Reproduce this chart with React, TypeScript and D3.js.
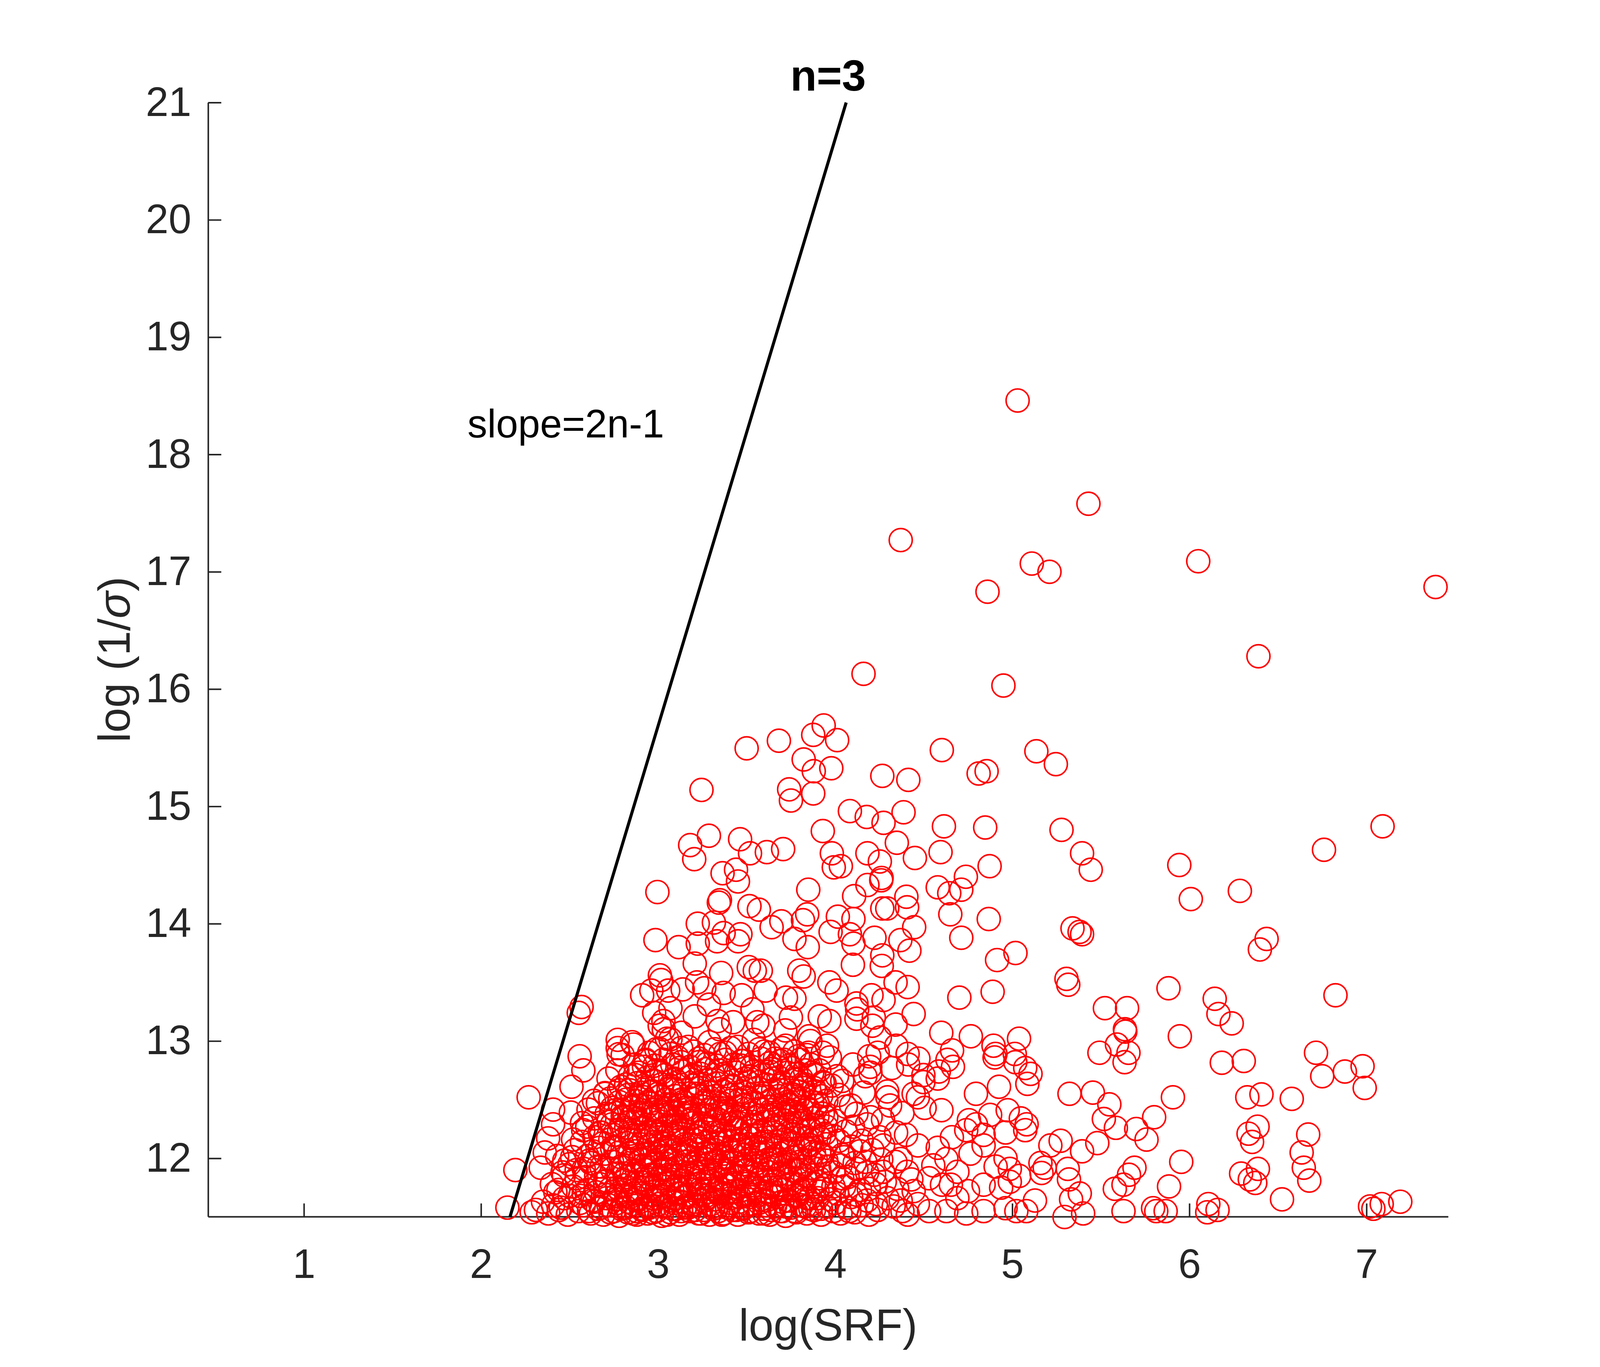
import React, { useEffect, useRef } from "react";
import * as d3 from "d3";

type Pt = [number, number];

// isolated points high above the cloud
const topPoints: Pt[] = [
  [5.03, 18.46], [5.43, 17.58], [4.37, 17.27], [5.11, 17.07], [5.21, 17.0], [4.86, 16.83],
  [6.05, 17.09], [7.39, 16.87], [6.39, 16.28], [4.16, 16.13], [4.95, 16.03],
];

// upper part of the cloud, left of x=4.3
const upperLeft: Pt[] = [
  [3.5, 15.495], [3.682, 15.56], [3.935, 15.69], [3.876, 15.61], [4.011, 15.565], [3.822, 15.4],
  [3.879, 15.3], [3.978, 15.325], [3.74, 15.145], [3.75, 15.05], [3.876, 15.11], [3.245, 15.14],
  [4.266, 15.26], [4.083, 14.96], [4.178, 14.91], [4.273, 14.86], [3.93, 14.79], [3.181, 14.67],
  [3.287, 14.75], [3.204, 14.55], [3.463, 14.72], [3.519, 14.6], [3.614, 14.61], [3.706, 14.636],
  [3.981, 14.6], [3.992, 14.48], [4.032, 14.49], [4.182, 14.6], [4.252, 14.53], [4.262, 14.39],
  [3.364, 14.43], [3.44, 14.46], [3.451, 14.36], [2.996, 14.27], [3.848, 14.29], [4.182, 14.33],
  [3.349, 14.2], [3.343, 14.18], [3.516, 14.15], [3.569, 14.12], [4.107, 14.235], [4.266, 14.13],
  [3.224, 14.0], [3.315, 14.01], [3.37, 13.92], [3.465, 13.91], [3.641, 13.97], [3.696, 14.02],
  [3.818, 14.03], [3.842, 14.08], [4.015, 14.06], [4.103, 14.04], [3.77, 13.87], [3.845, 13.8],
  [3.974, 13.93], [4.083, 13.91], [4.103, 13.83], [4.222, 13.88], [4.266, 13.73], [2.985, 13.86],
  [3.116, 13.8], [3.224, 13.83], [3.333, 13.85], [3.451, 13.85], [3.207, 13.66], [3.356, 13.58],
  [3.512, 13.63], [3.546, 13.6], [3.58, 13.6], [3.797, 13.6], [3.822, 13.55], [4.1, 13.65],
  [4.263, 13.64], [3.01, 13.56], [3.017, 13.52], [2.91, 13.39], [2.962, 13.43], [3.057, 13.43],
  [3.139, 13.44], [3.22, 13.5], [3.261, 13.45], [3.37, 13.41], [3.472, 13.39], [3.607, 13.43],
  [3.722, 13.37], [3.77, 13.36], [3.967, 13.5], [4.008, 13.43], [4.205, 13.39], [4.124, 13.27],
  [4.218, 13.2], [2.568, 13.29], [2.552, 13.24], [3.03, 13.17], [3.207, 13.21], [3.336, 13.17],
  [3.424, 13.16], [3.56, 13.16], [3.75, 13.2], [3.913, 13.21], [3.967, 13.17], [4.252, 13.03],
  [2.557, 12.87], [2.578, 12.75], [2.772, 12.94], [2.853, 12.99], [2.511, 12.61], [2.269, 12.52],
  [2.772, 13.01], [3.852, 13.04], [3.954, 12.96], [4.198, 12.78],
];

// upper part of the cloud, x from 4.2 to 5.7
const upperRight: Pt[] = [
  [4.602, 15.48], [4.413, 15.226], [4.81, 15.28], [4.855, 15.3], [5.136, 15.47], [5.246, 15.36],
  [4.386, 14.95], [4.614, 14.83], [4.847, 14.82], [4.348, 14.69], [4.45, 14.56], [4.595, 14.61],
  [4.872, 14.49], [5.278, 14.8], [5.394, 14.6], [5.443, 14.46], [4.26, 14.37], [4.402, 14.23],
  [4.406, 14.14], [4.294, 14.13], [4.579, 14.31], [4.644, 14.26], [4.738, 14.4], [4.712, 14.29],
  [4.65, 14.08], [4.867, 14.04], [4.712, 13.88], [4.446, 13.97], [4.368, 13.86], [4.419, 13.77],
  [4.914, 13.69], [5.018, 13.75], [5.34, 13.96], [5.38, 13.93], [5.394, 13.91], [5.306, 13.53],
  [5.316, 13.48], [4.701, 13.37], [4.889, 13.42], [4.341, 13.5], [4.409, 13.46], [4.273, 13.35],
  [4.443, 13.23], [4.341, 13.14], [5.523, 13.28], [5.648, 13.28], [5.636, 13.1], [5.638, 13.08],
  [5.591, 12.97], [5.656, 12.9], [5.634, 12.82], [5.492, 12.9], [4.599, 13.07], [4.766, 13.04],
  [4.894, 12.96], [4.905, 12.89], [5.038, 13.02], [5.014, 12.89], [4.66, 12.92], [4.47, 12.85],
  [4.409, 12.89], [4.345, 12.96], [4.192, 12.87], [4.199, 12.73], [4.294, 12.57], [4.498, 12.65],
  [4.579, 12.68], [5.081, 12.29],
];

// right side, x beyond 5.85
const farRight: Pt[] = [
  [5.943, 14.5], [6.008, 14.21], [6.285, 14.28], [6.76, 14.63], [7.091, 14.83], [6.436, 13.87],
  [6.398, 13.78], [5.882, 13.45], [6.143, 13.36], [6.164, 13.23], [6.239, 13.15], [5.946, 13.04],
  [6.825, 13.39], [6.183, 12.815], [6.307, 12.83], [6.715, 12.9], [6.75, 12.7], [6.878, 12.74],
  [6.978, 12.785], [6.99, 12.6], [5.907, 12.52], [6.327, 12.52], [6.407, 12.545], [6.578, 12.507],
  [6.334, 12.21], [6.385, 12.27], [6.354, 12.14], [6.671, 12.203], [6.634, 12.05], [6.646, 11.92],
  [6.677, 11.81], [5.954, 11.97], [5.885, 11.76], [5.866, 11.55], [6.292, 11.87], [6.341, 11.82],
  [6.387, 11.91], [6.372, 11.79], [6.523, 11.65], [6.107, 11.61], [6.101, 11.54], [6.159, 11.56],
  [7.02, 11.59], [7.039, 11.57], [7.086, 11.61], [7.191, 11.63],
];

// lower band, x from 4.2 to 5.85
const lowerRight: Pt[] = [
  [4.32, 12.77], [4.412, 12.8], [4.498, 12.71], [4.585, 12.74], [4.634, 12.84], [4.665, 12.78],
  [4.9, 12.86], [5.017, 12.82], [5.073, 12.77], [5.103, 12.72], [5.085, 12.635], [4.795, 12.55],
  [4.925, 12.61], [4.295, 12.52], [4.467, 12.52], [4.505, 12.43], [4.6, 12.41], [4.443, 12.55],
  [4.755, 12.325], [4.795, 12.29], [4.838, 12.2], [4.74, 12.24], [4.875, 12.37], [4.974, 12.41],
  [5.048, 12.34], [5.073, 12.24], [4.962, 12.22], [4.659, 12.18], [4.579, 12.09], [4.764, 12.04],
  [4.838, 12.11], [4.962, 12.0], [4.906, 11.93], [4.986, 11.91], [5.039, 11.85], [5.159, 11.96],
  [5.215, 12.11], [5.273, 12.15], [5.323, 12.55], [5.455, 12.56], [5.548, 12.46], [5.517, 12.335],
  [5.585, 12.26], [5.48, 12.13], [5.394, 12.06], [5.7, 12.25], [5.758, 12.16], [5.801, 12.35],
  [5.69, 11.92], [5.659, 11.86], [5.579, 11.74], [5.628, 11.775], [5.313, 11.91], [5.32, 11.82],
  [5.381, 11.7], [5.332, 11.65], [5.4, 11.53], [5.295, 11.5], [5.183, 11.92], [5.165, 11.875],
  [5.128, 11.64], [5.079, 11.55], [5.023, 11.55], [4.962, 11.575], [5.628, 11.55], [5.795, 11.575],
  [5.813, 11.55], [4.838, 11.775], [4.838, 11.55], [4.74, 11.53], [4.937, 11.75], [4.986, 11.8],
  [4.69, 11.66], [4.603, 11.775], [4.53, 11.83], [4.443, 11.72], [4.53, 11.55], [4.38, 11.55],
  [4.295, 11.66], [4.27, 11.885], [4.37, 11.995], [4.467, 12.11], [4.27, 12.11], [4.344, 12.22],
  [4.27, 12.33], [4.38, 12.385], [4.628, 11.995], [4.69, 11.885], [4.653, 11.775], [4.75, 11.72],
  [4.467, 11.61], [4.628, 11.55], [4.406, 11.885], [4.554, 11.94],
];

// left edge of the cloud, next to the line
const leftEdge: Pt[] = [
  [2.407, 12.415], [2.507, 12.39], [2.407, 12.29], [2.379, 12.17], [2.36, 12.05], [2.337, 11.92],
  [2.194, 11.9], [2.149, 11.58], [2.286, 11.54], [2.407, 11.6], [2.437, 11.73], [2.468, 11.855],
  [2.515, 12.01], [2.577, 12.24], [2.607, 12.415], [2.638, 12.49], [2.7, 12.556], [2.777, 12.887],
  [2.978, 13.24], [3.032, 13.1], [3.07, 13.28], [3.287, 13.31], [3.533, 13.27], [4.12, 13.32],
  [4.12, 13.19], [4.21, 13.13], [3.718, 13.09], [3.595, 13.13], [3.348, 13.1], [3.132, 13.07],
  [3.009, 13.13], [3.07, 13.015], [2.35, 11.63], [2.4, 11.78], [2.44, 11.56], [2.47, 11.98],
  [2.5, 11.68], [2.52, 12.16], [2.54, 11.9], [2.57, 12.3], [2.43, 12.02],
];

// dense core, bottom row
const coreA: Pt[] = [
  [2.31, 11.56], [2.38, 11.53], [2.45, 11.58], [2.49, 11.52], [2.55, 11.55], [2.58, 11.6],
  [2.62, 11.53], [2.66, 11.57], [2.69, 11.52], [2.72, 11.6], [2.75, 11.55], [2.78, 11.51],
  [2.8, 11.58], [2.83, 11.54], [2.86, 11.61], [2.88, 11.52], [2.91, 11.56], [2.94, 11.53],
  [2.96, 11.59], [2.99, 11.55], [3.02, 11.51], [3.04, 11.6], [3.07, 11.54], [3.1, 11.57],
  [3.12, 11.52], [3.15, 11.58], [3.18, 11.55], [3.2, 11.61], [3.23, 11.53], [3.26, 11.56],
  [3.29, 11.52], [3.31, 11.59], [3.34, 11.55], [3.37, 11.53], [3.4, 11.6], [3.42, 11.56],
  [3.45, 11.52], [3.48, 11.58], [3.51, 11.54], [3.54, 11.61], [3.57, 11.53], [3.6, 11.57],
  [3.63, 11.52], [3.66, 11.59], [3.69, 11.55], [3.72, 11.51], [3.75, 11.58], [3.78, 11.54],
  [3.81, 11.6], [3.84, 11.53], [3.88, 11.56], [3.92, 11.52], [3.95, 11.59], [3.99, 11.55],
  [4.03, 11.53], [4.07, 11.58], [4.11, 11.54], [4.15, 11.6], [4.19, 11.52], [4.24, 11.56],
  [4.33, 11.59], [4.41, 11.52],
];

const coreB: Pt[] = [
  [2.42, 11.71], [2.47, 11.66], [2.52, 11.76], [2.56, 11.68], [2.6, 11.73], [2.63, 11.64],
  [2.67, 11.78], [2.7, 11.69], [2.73, 11.74], [2.76, 11.65], [2.79, 11.71], [2.81, 11.77],
  [2.84, 11.67], [2.87, 11.73], [2.9, 11.63], [2.92, 11.79], [2.95, 11.69], [2.97, 11.75],
  [3.0, 11.66], [3.03, 11.72], [3.05, 11.78], [3.08, 11.64], [3.11, 11.7], [3.13, 11.76],
  [3.16, 11.67], [3.19, 11.73], [3.21, 11.63], [3.24, 11.79], [3.27, 11.68], [3.3, 11.74],
  [3.32, 11.65], [3.35, 11.71], [3.38, 11.77], [3.41, 11.66], [3.43, 11.72], [3.46, 11.63],
  [3.49, 11.78], [3.52, 11.69], [3.55, 11.75], [3.58, 11.65], [3.61, 11.71], [3.64, 11.77],
  [3.67, 11.67], [3.7, 11.73], [3.73, 11.64], [3.76, 11.79], [3.79, 11.68], [3.82, 11.74],
  [3.86, 11.66], [3.9, 11.72], [3.94, 11.77], [3.97, 11.65], [4.01, 11.7], [4.05, 11.76],
  [4.09, 11.67], [4.14, 11.73], [4.18, 11.64], [4.23, 11.78], [4.35, 11.74],
];

const coreC: Pt[] = [
  [2.46, 11.88], [2.5, 11.95], [2.54, 11.83], [2.58, 11.91], [2.61, 11.98], [2.65, 11.85],
  [2.68, 11.93], [2.71, 11.81], [2.74, 11.97], [2.77, 11.87], [2.8, 11.92], [2.82, 11.84],
  [2.85, 11.99], [2.88, 11.89], [2.91, 11.82], [2.93, 11.94], [2.96, 11.86], [2.99, 11.96],
  [3.01, 11.83], [3.04, 11.9], [3.07, 11.98], [3.09, 11.85], [3.12, 11.93], [3.15, 11.81],
  [3.17, 11.88], [3.2, 11.95], [3.23, 11.84], [3.26, 11.91], [3.28, 11.99], [3.31, 11.86],
  [3.34, 11.94], [3.36, 11.82], [3.39, 11.89], [3.42, 11.97], [3.45, 11.85], [3.47, 11.92],
  [3.5, 11.8], [3.53, 11.88], [3.56, 11.96], [3.59, 11.84], [3.62, 11.91], [3.65, 11.99],
  [3.68, 11.86], [3.71, 11.93], [3.74, 11.82], [3.77, 11.9], [3.8, 11.97], [3.83, 11.85],
  [3.87, 11.92], [3.91, 11.83], [3.95, 11.98], [3.99, 11.88], [4.03, 11.94], [4.07, 11.84],
  [4.12, 11.91], [4.17, 11.97], [4.22, 11.86],
];

const coreD: Pt[] = [
  [2.53, 12.07], [2.57, 12.14], [2.6, 12.02], [2.64, 12.18], [2.67, 12.09], [2.7, 12.04],
  [2.73, 12.16], [2.76, 12.1], [2.79, 12.01], [2.82, 12.13], [2.84, 12.19], [2.87, 12.06],
  [2.9, 12.12], [2.93, 12.03], [2.95, 12.17], [2.98, 12.08], [3.01, 12.14], [3.04, 12.0],
  [3.06, 12.1], [3.09, 12.19], [3.12, 12.05], [3.15, 12.12], [3.17, 12.02], [3.2, 12.16],
  [3.23, 12.08], [3.26, 12.13], [3.29, 12.04], [3.31, 12.18], [3.34, 12.09], [3.37, 12.01],
  [3.4, 12.15], [3.43, 12.07], [3.46, 12.12], [3.49, 12.03], [3.52, 12.17], [3.55, 12.1],
  [3.58, 12.05], [3.61, 12.14], [3.64, 12.0], [3.67, 12.11], [3.7, 12.18], [3.73, 12.06],
  [3.76, 12.13], [3.79, 12.02], [3.83, 12.09], [3.87, 12.16], [3.91, 12.05], [3.95, 12.12],
  [3.99, 12.19], [4.04, 12.03], [4.09, 12.1], [4.15, 12.15], [4.21, 12.07],
];

const coreE: Pt[] = [
  [2.6, 12.27], [2.64, 12.34], [2.68, 12.22], [2.71, 12.38], [2.74, 12.29], [2.78, 12.24],
  [2.81, 12.35], [2.84, 12.21], [2.87, 12.31], [2.9, 12.39], [2.93, 12.26], [2.96, 12.33],
  [2.99, 12.23], [3.02, 12.37], [3.05, 12.28], [3.08, 12.21], [3.11, 12.34], [3.14, 12.25],
  [3.17, 12.39], [3.2, 12.3], [3.23, 12.22], [3.26, 12.36], [3.29, 12.27], [3.32, 12.32],
  [3.35, 12.23], [3.38, 12.38], [3.41, 12.29], [3.44, 12.24], [3.47, 12.35], [3.5, 12.26],
  [3.54, 12.31], [3.58, 12.22], [3.62, 12.37], [3.66, 12.28], [3.7, 12.33], [3.74, 12.24],
  [3.78, 12.39], [3.82, 12.3], [3.86, 12.25], [3.9, 12.36], [3.95, 12.27], [4.0, 12.32],
  [4.06, 12.23], [4.12, 12.38], [4.18, 12.29],
];

const coreF: Pt[] = [
  [2.66, 12.47], [2.7, 12.55], [2.74, 12.43], [2.78, 12.58], [2.82, 12.5], [2.86, 12.44],
  [2.9, 12.56], [2.94, 12.48], [2.97, 12.41], [3.01, 12.53], [3.05, 12.46], [3.09, 12.59],
  [3.13, 12.5], [3.17, 12.42], [3.21, 12.55], [3.25, 12.47], [3.29, 12.52], [3.33, 12.43],
  [3.37, 12.57], [3.41, 12.49], [3.45, 12.44], [3.49, 12.56], [3.54, 12.48], [3.59, 12.53],
  [3.64, 12.41], [3.69, 12.58], [3.74, 12.46], [3.79, 12.51], [3.84, 12.43], [3.89, 12.57],
  [3.95, 12.49], [4.02, 12.54], [4.09, 12.45],
];

const coreG: Pt[] = [
  [2.72, 12.68], [2.77, 12.75], [2.82, 12.63], [2.87, 12.71], [2.92, 12.78], [2.97, 12.66],
  [3.02, 12.73], [3.07, 12.62], [3.12, 12.77], [3.17, 12.69], [3.22, 12.64], [3.27, 12.76],
  [3.32, 12.67], [3.37, 12.72], [3.42, 12.61], [3.47, 12.79], [3.52, 12.7], [3.57, 12.65],
  [3.63, 12.74], [3.69, 12.62], [3.75, 12.77], [3.81, 12.68], [3.87, 12.73], [3.94, 12.64],
  [4.01, 12.7],
];

const coreH: Pt[] = [
  [2.8, 12.88], [2.86, 12.97], [2.93, 12.84], [2.99, 12.93], [3.05, 13.02], [3.11, 12.86],
  [3.17, 12.95], [3.23, 12.82], [3.29, 12.99], [3.35, 12.89], [3.41, 12.94], [3.47, 12.83],
  [3.54, 13.01], [3.6, 12.91], [3.66, 12.85], [3.72, 12.96], [3.79, 12.87], [3.86, 13.0],
  [3.93, 12.9],
];

// extra points in the darkest part of the core
const coreDense: Pt[] = [
  [2.77, 11.62], [2.81, 11.81], [2.84, 12.04], [2.86, 11.7], [2.89, 12.22], [2.91, 11.57],
  [2.93, 11.9], [2.95, 12.11], [2.97, 11.66], [2.99, 12.3], [3.01, 11.78], [3.02, 12.02],
  [3.03, 11.59], [3.05, 11.95], [3.06, 12.2], [3.08, 11.73], [3.1, 12.07], [3.11, 11.85],
  [3.13, 11.63], [3.14, 12.27], [3.16, 11.97], [3.18, 11.76], [3.19, 12.12], [3.21, 11.56],
  [3.22, 11.92], [3.24, 12.23], [3.25, 11.69], [3.27, 12.05], [3.28, 11.83], [3.3, 11.61],
  [3.31, 12.31], [3.33, 11.98], [3.35, 11.74], [3.36, 12.16], [3.38, 11.87], [3.39, 11.58],
  [3.41, 12.08], [3.43, 11.79], [3.44, 12.26], [3.46, 11.67], [3.48, 11.95], [3.5, 12.19],
  [3.51, 11.6], [3.53, 11.84], [3.55, 12.06], [3.57, 11.72], [3.59, 12.24], [2.79, 11.93],
  [2.82, 11.68], [2.85, 12.15], [2.88, 11.55], [2.9, 11.99], [2.94, 11.77], [2.96, 12.24],
  [2.98, 11.86], [3.0, 11.61], [3.04, 12.12], [3.07, 11.82], [3.09, 12.32], [3.12, 11.7],
  [3.15, 12.03], [3.17, 11.58], [3.2, 11.88], [3.23, 12.17], [3.26, 11.64], [3.29, 11.96],
  [3.32, 12.22], [3.34, 11.7], [3.37, 12.04], [3.4, 11.82], [3.42, 12.33], [3.45, 11.6],
  [3.47, 12.11], [3.49, 11.89], [3.52, 11.67], [3.56, 11.93], [3.58, 12.13], [3.61, 11.64],
  [3.63, 11.88], [3.65, 12.23], [3.67, 11.75], [3.69, 12.04], [3.71, 12.38], [3.72, 11.59],
  [3.74, 11.97], [3.76, 12.2], [3.78, 11.69], [3.8, 12.09], [3.81, 12.43], [3.83, 11.82],
  [3.85, 12.27], [3.87, 11.61], [3.89, 11.99], [3.91, 12.18], [3.93, 11.74], [3.95, 12.35],
];

const coreDense2: Pt[] = [
  [2.56, 11.62], [2.59, 11.84], [2.61, 11.55], [2.63, 12.06], [2.65, 11.71], [2.66, 11.93],
  [2.68, 11.58], [2.69, 12.13], [2.7, 11.8], [2.72, 12.31], [2.73, 11.54], [2.74, 11.91],
  [2.75, 12.2], [2.76, 11.68], [2.78, 12.05], [2.79, 11.57], [2.8, 12.41], [2.81, 11.87],
  [2.82, 12.26], [2.83, 11.63], [2.84, 11.98], [2.85, 12.35], [2.86, 11.53], [2.87, 11.79],
  [2.88, 12.09], [2.89, 11.66], [2.9, 12.45], [2.91, 11.94], [2.92, 12.18], [2.93, 11.6],
  [2.94, 12.38], [2.95, 11.83], [2.96, 12.01], [2.97, 11.54], [2.98, 12.14], [2.99, 11.72],
  [3.0, 12.4], [3.01, 11.9], [3.02, 12.25], [3.03, 11.67], [3.04, 12.08], [3.05, 11.52],
  [3.06, 11.86], [3.07, 12.36], [3.08, 11.99], [3.09, 11.62], [3.1, 12.28], [3.11, 11.76],
  [3.12, 12.16], [3.13, 11.55], [3.14, 11.94], [3.15, 12.43], [3.16, 11.69], [3.17, 12.06],
  [3.18, 11.85], [3.19, 12.34], [3.2, 11.6], [3.21, 12.19], [3.22, 11.78], [3.23, 12.0],
  [3.24, 11.53], [3.25, 12.29], [3.26, 11.88], [3.27, 11.66], [3.28, 12.14], [3.29, 12.41],
  [3.3, 11.81], [3.31, 11.57], [3.32, 12.07], [3.33, 11.73], [3.34, 12.33], [3.35, 11.93],
  [3.36, 11.52], [3.37, 12.21], [3.38, 11.7], [3.39, 12.0], [3.4, 12.37], [3.41, 11.62],
  [3.42, 11.91], [3.43, 12.15], [3.44, 11.56], [3.45, 11.84], [3.46, 12.3], [3.47, 12.03],
  [3.48, 11.68], [3.49, 12.42], [3.5, 11.9], [3.51, 12.12], [3.52, 11.55], [3.53, 12.27],
  [3.54, 11.77], [3.55, 11.98], [3.56, 12.36], [3.57, 11.62], [3.58, 11.87], [3.59, 12.09],
  [3.6, 11.53], [2.58, 11.7], [2.62, 11.96], [2.64, 11.63], [2.67, 12.22], [2.71, 11.66],
  [2.74, 12.09], [2.77, 11.75], [2.79, 12.28], [2.82, 11.58], [2.85, 11.86], [2.88, 12.34],
  [2.9, 11.7], [2.93, 12.04], [2.95, 11.58], [2.98, 11.95], [3.0, 12.2], [3.03, 11.83],
  [3.06, 12.45], [3.08, 11.57], [3.1, 11.92], [3.13, 12.23], [3.16, 11.6], [3.18, 12.39],
  [3.21, 11.97], [3.24, 11.74], [3.27, 12.25], [3.3, 12.02], [3.33, 11.58], [3.36, 12.4],
  [3.39, 11.78], [3.42, 12.05], [3.45, 12.24], [3.48, 11.57], [3.51, 11.99], [3.54, 12.2],
  [3.57, 11.82],
];

// right half of the core, x from 3.6 to 4.45
const coreMid: Pt[] = [
  [3.62, 12.31], [3.64, 11.56], [3.66, 12.02], [3.68, 12.45], [3.7, 11.63], [3.72, 12.16],
  [3.73, 11.84], [3.75, 12.55], [3.77, 11.55], [3.79, 12.25], [3.8, 11.9], [3.82, 12.6],
  [3.84, 11.66], [3.86, 12.11], [3.88, 11.78], [3.9, 12.47], [3.92, 11.57], [3.94, 12.21],
  [3.96, 11.93], [3.98, 12.62], [4.0, 11.62], [4.02, 12.15], [4.04, 11.83], [4.06, 12.44],
  [4.08, 11.55], [4.1, 12.27], [4.12, 11.69], [4.14, 12.06], [4.16, 12.56], [4.18, 11.88],
  [4.2, 12.35], [4.23, 11.61], [4.25, 12.18], [4.28, 11.8], [4.31, 12.45], [4.34, 11.97],
  [4.37, 11.64], [4.4, 12.2], [4.43, 11.82], [3.65, 12.68], [3.71, 12.84], [3.78, 12.72],
  [3.85, 12.9], [3.91, 12.75], [3.97, 12.86], [4.04, 12.66], [4.1, 12.8], [4.17, 12.7],
  [4.24, 12.9], [3.63, 11.75], [3.69, 11.95], [3.74, 12.36], [3.81, 11.72], [3.87, 12.34],
  [3.93, 12.03], [3.99, 11.76], [4.05, 12.01], [4.11, 11.96], [4.19, 11.74], [4.26, 11.99],
  [3.61, 11.6], [3.63, 12.12], [3.66, 11.81], [3.68, 12.26], [3.7, 11.55], [3.72, 11.96],
  [3.75, 12.08], [3.77, 11.68], [3.79, 12.3], [3.82, 11.93], [3.84, 12.17], [3.86, 11.57],
  [3.88, 12.05], [3.9, 11.8], [3.92, 12.24], [3.64, 11.69], [3.67, 12.14], [3.69, 11.87],
  [3.72, 12.32], [3.74, 11.64], [3.76, 12.01], [3.79, 11.77], [3.81, 12.19], [3.83, 11.59],
  [3.86, 11.98], [3.88, 12.28], [3.9, 11.66], [3.62, 11.99], [3.65, 12.33], [3.71, 11.73],
  [3.78, 11.89], [3.85, 12.12], [3.91, 11.91],
];

// upper layer of the core, y from 12.35 to 12.95
const coreUpper: Pt[] = [
  [2.76, 12.41], [2.8, 12.36], [2.85, 12.43], [2.89, 12.38], [2.94, 12.44], [2.99, 12.37],
  [3.03, 12.42], [3.08, 12.39], [3.12, 12.45], [3.16, 12.36], [3.21, 12.41], [3.26, 12.44],
  [3.3, 12.37], [3.35, 12.43], [3.39, 12.4], [3.44, 12.36], [3.48, 12.45], [3.53, 12.38],
  [3.57, 12.42], [3.62, 12.44], [3.66, 12.37], [3.71, 12.43], [3.76, 12.4], [3.8, 12.36],
  [3.85, 12.42], [3.89, 12.45], [3.93, 12.38], [2.73, 12.51], [2.78, 12.48], [2.83, 12.54],
  [2.87, 12.49], [2.92, 12.52], [2.96, 12.47], [3.0, 12.55], [3.05, 12.5], [3.1, 12.53],
  [3.14, 12.48], [3.19, 12.51], [3.23, 12.55], [3.27, 12.49], [3.32, 12.53], [3.36, 12.47],
  [3.41, 12.54], [3.46, 12.5], [3.5, 12.52], [3.55, 12.47], [3.6, 12.55], [3.64, 12.5],
  [3.68, 12.53], [3.73, 12.48], [3.77, 12.54], [3.82, 12.51], [3.87, 12.48], [3.92, 12.53],
  [2.79, 12.61], [2.84, 12.58], [2.88, 12.64], [2.93, 12.6], [2.97, 12.57], [3.02, 12.63],
  [3.06, 12.59], [3.11, 12.65], [3.15, 12.58], [3.2, 12.62], [3.24, 12.6], [3.29, 12.56],
  [3.33, 12.64], [3.38, 12.59], [3.42, 12.62], [3.47, 12.57], [3.51, 12.65], [3.56, 12.6],
  [3.61, 12.63], [3.65, 12.58], [3.7, 12.64], [3.74, 12.6], [3.79, 12.57], [3.83, 12.63],
  [3.88, 12.6], [3.93, 12.65], [2.84, 12.7], [2.89, 12.73], [2.94, 12.69], [2.99, 12.75],
  [3.04, 12.71], [3.09, 12.68], [3.14, 12.74], [3.19, 12.7], [3.24, 12.72], [3.29, 12.67],
  [3.34, 12.75], [3.39, 12.7], [3.44, 12.73], [3.49, 12.68], [3.54, 12.74], [3.59, 12.71],
  [3.64, 12.76], [3.68, 12.69], [3.73, 12.73], [3.78, 12.67], [3.83, 12.75], [3.88, 12.71],
  [2.87, 12.8], [2.93, 12.83], [2.98, 12.79], [3.03, 12.84], [3.08, 12.8], [3.13, 12.82],
  [3.18, 12.78], [3.23, 12.85], [3.28, 12.81], [3.33, 12.79], [3.38, 12.84], [3.43, 12.8],
  [3.48, 12.83], [3.53, 12.78], [3.58, 12.85], [3.63, 12.81], [3.69, 12.83], [3.74, 12.79],
  [3.8, 12.84], [3.86, 12.8], [2.95, 12.9], [3.01, 12.93], [3.07, 12.89], [3.13, 12.94],
  [3.2, 12.91], [3.26, 12.88], [3.32, 12.93], [3.38, 12.9], [3.45, 12.95], [3.51, 12.89],
  [3.57, 12.93], [3.63, 12.9], [3.7, 12.94], [3.77, 12.91], [3.84, 12.88],
];

// reference line of slope 2n-1 = 5
const lineX = [2.164, 4.062];
const lineY = [11.503, 21];

const xTicks = [1, 2, 3, 4, 5, 6, 7];
const yTicks = [12, 13, 14, 15, 16, 17, 18, 19, 20, 21];

const W = 4667;
const H = 3500;
const FONT = "'Liberation Sans', Arial, Helvetica, sans-serif";
const AXIS_COLOR = "#262626";

const App: React.FC = () => {
  const svgRef = useRef<SVGSVGElement>(null);

  useEffect(() => {
    document.body.style.margin = "0";
    document.documentElement.style.overflow = "hidden";

    // lay the figure out on the real viewport, keeping the reference proportions
    const vw = window.innerWidth || W;
    const vh = window.innerHeight || H;
    const sx = vw / W;
    const sy = vh / H;
    const k = Math.sqrt(sx * sy);

    const svg = d3.select(svgRef.current).attr("width", vw).attr("height", vh);
    svg.selectAll("*").remove();

    const left = 607 * sx;
    const right = 4224 * sx;
    const top = 262.5 * sy;
    const bottom = 3115 * sy;

    const x = d3.scaleLinear().domain([0.459, 7.461]).range([left, right]);
    const y = d3.scaleLinear().domain([11.503, 21]).range([bottom, top]);

    svg.append("rect").attr("width", vw).attr("height", vh).attr("fill", "#ffffff");

    const tickFont = 112 * k;
    const tickLen = 36 * k;

    // axes (box off, ticks pointing inward)
    const xAxis = svg
      .append("g")
      .attr("transform", `translate(0,${bottom})`)
      .call(
        d3
          .axisBottom(x)
          .tickValues(xTicks)
          .tickSizeInner(-tickLen)
          .tickSizeOuter(0)
          .tickPadding(157 * sy - 0.71 * tickFont)
          .tickFormat(d3.format("d"))
      );
    const yAxis = svg
      .append("g")
      .attr("transform", `translate(${left},0)`)
      .call(
        d3
          .axisLeft(y)
          .tickValues(yTicks)
          .tickSizeInner(-tickLen)
          .tickSizeOuter(0)
          .tickPadding(49 * sx)
          .tickFormat(d3.format("d"))
      );
    [xAxis, yAxis].forEach((g) => {
      g.attr("font-size", tickFont).attr("font-family", FONT).attr("color", AXIS_COLOR);
      g.selectAll("path, line").attr("stroke-width", 4.2 * k);
      g.selectAll("text").attr("fill", AXIS_COLOR);
    });

    // scatter markers
    const points: Pt[] = [
      ...coreA, ...coreB, ...coreC, ...coreD, ...coreE, ...coreF, ...coreG, ...coreH,
      ...coreDense, ...coreDense2, ...coreMid, ...coreUpper, ...leftEdge, ...lowerRight,
      ...upperLeft, ...upperRight, ...farRight, ...topPoints,
    ];
    svg
      .append("g")
      .selectAll("circle")
      .data(points)
      .join("circle")
      .attr("cx", (d) => x(d[0]))
      .attr("cy", (d) => y(d[1]))
      .attr("r", 31.5 * k)
      .attr("fill", "none")
      .attr("stroke", "#ff0000")
      .attr("stroke-width", 4.2 * k);

    // slope line
    const line = d3
      .line<number>()
      .x((d) => x(d))
      .y((_, i) => y(lineY[i]));
    svg
      .append("path")
      .attr("d", line(lineX))
      .attr("fill", "none")
      .attr("stroke", "#000")
      .attr("stroke-width", 8.4 * k);

    // annotations
    svg
      .append("text")
      .attr("x", x(3.96))
      .attr("y", y(21.1))
      .attr("text-anchor", "middle")
      .attr("font-family", FONT)
      .attr("font-size", 118 * k)
      .attr("font-weight", "bold")
      .attr("fill", "#000")
      .text("n=3");
    svg
      .append("text")
      .attr("x", x(2.479))
      .attr("y", y(18.146))
      .attr("text-anchor", "middle")
      .attr("font-family", FONT)
      .attr("font-size", 108 * k)
      .attr("fill", "#000")
      .text("slope=2n-1");

    // axis labels
    svg
      .append("text")
      .attr("x", (left + right) / 2)
      .attr("y", 3432 * sy)
      .attr("text-anchor", "middle")
      .attr("font-family", FONT)
      .attr("font-size", 122 * k)
      .attr("fill", AXIS_COLOR)
      .text("log(SRF)");
    const yLabel = svg
      .append("text")
      .attr("transform", `translate(${378 * sx},${(top + bottom) / 2}) rotate(-90)`)
      .attr("text-anchor", "middle")
      .attr("font-family", FONT)
      .attr("font-size", 122 * k)
      .attr("fill", AXIS_COLOR);
    yLabel.append("tspan").text("log (1/");
    yLabel.append("tspan").attr("font-style", "italic").text("σ");
    yLabel.append("tspan").text(")");
  }, []);

  return <svg ref={svgRef} style={{ display: "block", background: "#ffffff" }} />;
};

export default App;
